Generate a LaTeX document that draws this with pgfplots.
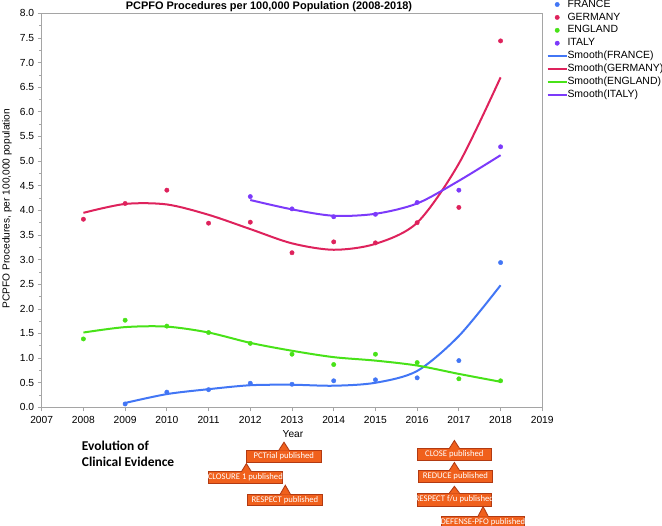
\documentclass[border=0pt]{standalone}
\usepackage{fontspec}
\setmainfont{Liberation Sans}
\newfontfamily\carlito{Carlito}
\usepackage{pgfplots}
\pgfplotsset{compat=1.18}
\definecolor{cFR}{RGB}{66,118,245}
\definecolor{cDE}{RGB}{222,34,92}
\definecolor{cEN}{RGB}{72,226,24}
\definecolor{cIT}{RGB}{124,58,250}
\definecolor{frame}{RGB}{165,165,165}
\definecolor{orfill}{RGB}{240,96,28}
\definecolor{ordraw}{RGB}{178,58,18}
\newcommand\evbox[7]{%
  \filldraw[fill=orfill, draw=ordraw, line width=0.9bp] (#1,#2) rectangle (#3,#4);
  \fill[orfill] (#5-5,#2+0.6) -- (#5,#6) -- (#5+5,#2+0.6) -- cycle;
  \draw[ordraw, line width=0.9bp] (#5-5,#2) -- (#5,#6) -- (#5+5,#2);
  \node[text=white, inner sep=0pt, font=\carlito\fontsize{8.7}{9}\selectfont] at ({(#1+#3)/2},{(#2+#4)/2}) {#7};
}
\begin{document}
\begin{tikzpicture}
\useasboundingbox (0,0) rectangle (662bp,-526bp);
\begin{axis}[
  at={(41.7bp,-407.4bp)}, anchor=south west,
  scale only axis, width=500.6bp, height=394.1bp,
  xmin=2007, xmax=2019, ymin=0, ymax=8,
  xtick={2007,...,2019}, ytick={0,0.5,...,8},
  minor x tick num=1, minor y tick num=1,
  xtick pos=lower, ytick pos=left,
  tick align=outside, major tick length=4bp, minor tick length=2.5bp,
  axis line style={frame, line width=0.8bp}, tick style={frame, line width=0.7bp},
  tick label style={font=\fontsize{10.3}{12}\selectfont},
  /pgf/number format/assume math mode=true,
  xticklabel style={/pgf/number format/1000 sep={}, inner sep=1bp, yshift=-3.4bp},
  yticklabel style={/pgf/number format/.cd, fixed, fixed zerofill, precision=1},
  clip=false,
  legend style={at={(1,1)}, anchor=north west, xshift=4.0bp, yshift=15.45bp,
    draw=none, fill=none, font=\fontsize{10.5}{12}\selectfont, row sep=0pt, column sep=0pt,
    inner sep=0pt, nodes={inner xsep=0pt, inner ysep=1.5bp, text height=7.6bp, text depth=2.3bp}},
  legend cell align=left,
]
\pgfplotsset{
  dotleg/.style={legend image code/.code={\path (0bp,0bp) (19bp,0bp); \draw[##1] plot coordinates {(9.7bp,0bp)};}},
  lineleg/.style={legend image code/.code={\draw[##1, line width=2bp] (0bp,0bp) -- (19bp,0bp);}},
}
\addplot[only marks, mark=*, mark size=2.2bp, color=cFR, dotleg] coordinates {
 (2009,0.07) (2010,0.31) (2011,0.36) (2012,0.49) (2013,0.47) (2014,0.54) (2015,0.56) (2016,0.60) (2017,0.95) (2018,2.94)};
\addlegendentry{FRANCE}
\addplot[only marks, mark=*, mark size=2.2bp, color=cDE, dotleg] coordinates {
 (2008,3.82) (2009,4.14) (2010,4.41) (2011,3.74) (2012,3.76) (2013,3.14) (2014,3.36) (2015,3.34) (2016,3.75) (2017,4.06) (2018,7.44)};
\addlegendentry{GERMANY}
\addplot[only marks, mark=*, mark size=2.2bp, color=cEN, dotleg] coordinates {
 (2008,1.39) (2009,1.77) (2010,1.65) (2011,1.52) (2012,1.30) (2013,1.08) (2014,0.87) (2015,1.08) (2016,0.91) (2017,0.58) (2018,0.54)};
\addlegendentry{ENGLAND}
\addplot[only marks, mark=*, mark size=2.2bp, color=cIT, dotleg] coordinates {
 (2012,4.28) (2013,4.03) (2014,3.87) (2015,3.92) (2016,4.16) (2017,4.41) (2018,5.29)};
\addlegendentry{ITALY}
\addplot[smooth, no markers, line width=2bp, color=cFR, lineleg] coordinates {
 (2009,0.09) (2010,0.27) (2011,0.37) (2012,0.45) (2013,0.46) (2014,0.44) (2015,0.50) (2016,0.74) (2017,1.45) (2018,2.48)};
\addlegendentry{Smooth(FRANCE)}
\addplot[smooth, no markers, line width=2bp, color=cDE, lineleg] coordinates {
 (2008,3.95) (2009,4.13) (2010,4.12) (2011,3.91) (2012,3.62) (2013,3.33) (2014,3.20) (2015,3.32) (2016,3.75) (2017,4.95) (2018,6.70)};
\addlegendentry{Smooth(GERMANY)}
\addplot[smooth, no markers, line width=2bp, color=cEN, lineleg] coordinates {
 (2008,1.52) (2009,1.63) (2010,1.64) (2011,1.52) (2012,1.31) (2013,1.15) (2014,1.02) (2015,0.95) (2016,0.85) (2017,0.68) (2018,0.52)};
\addlegendentry{Smooth(ENGLAND)}
\addplot[smooth, no markers, line width=2bp, color=cIT, lineleg] coordinates {
 (2012,4.21) (2013,4.02) (2014,3.89) (2015,3.93) (2016,4.14) (2017,4.60) (2018,5.12)};
\addlegendentry{Smooth(ITALY)}
\end{axis}
\begin{scope}[x=1bp, y=-1bp]
\node[anchor=base, font=\bfseries\fontsize{11}{13}\selectfont, inner sep=0pt] at (269,9.8) {PCPFO Procedures per 100,000 Population (2008-2018)};
\node[rotate=90, font=\fontsize{10.2}{12}\selectfont, inner sep=0pt] at (7,208.5) {PCPFO Procedures, per 100,000 population};
\node[font=\fontsize{10.2}{12}\selectfont, inner sep=0pt] at (293,434.4) {Year};
\node[anchor=base west, font=\carlito\bfseries\fontsize{13.5}{16}\selectfont, inner sep=0pt] at (81.7,450) {Evolution of};
\node[anchor=base west, font=\carlito\bfseries\fontsize{13.5}{16}\selectfont, inner sep=0pt] at (81.7,466.7) {Clinical Evidence};
\evbox{246.4}{450}{321.2}{462.5}{284}{442.2}{PCTrial published}
\evbox{208.4}{471.7}{282.3}{483.6}{246.4}{463.6}{CLOSURE 1 published}
\evbox{247.3}{494}{322.5}{505.6}{285.3}{485.3}{RESPECT published}
\evbox{417.2}{448.3}{491.5}{460.2}{454.4}{440.5}{CLOSE published}
\evbox{418.4}{470.3}{492.4}{482.2}{454.4}{462.5}{REDUCE published}
\evbox{417.2}{493}{491.5}{506}{454.4}{486.3}{RESPECT f/u published}
\evbox{441.7}{516.1}{524.1}{527.5}{483.1}{506.6}{DEFENSE-PFO published}
\end{scope}
\end{tikzpicture}
\end{document}
